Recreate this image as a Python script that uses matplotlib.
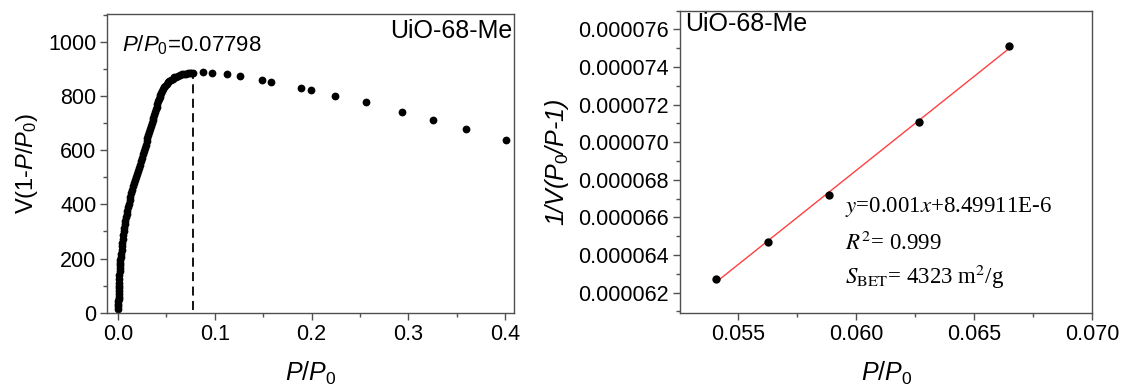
import matplotlib
matplotlib.use("Agg")
import matplotlib.pyplot as plt
import numpy as np
from matplotlib.ticker import MultipleLocator, FormatStrFormatter

plt.rcParams['font.family'] = ['Liberation Sans', 'DejaVu Sans']
plt.rcParams['mathtext.fontset'] = 'custom'
plt.rcParams['mathtext.rm'] = 'Liberation Sans'
plt.rcParams['mathtext.it'] = 'Liberation Sans:italic'
plt.rcParams['mathtext.bf'] = 'Liberation Sans:bold'

# ---------------- data: left panel (Rouquerol plot) ----------------
p_rel = [0.0003, 0.0004, 0.0005, 0.0006, 0.0007, 0.0008, 0.0009, 0.0010, 0.0011, 0.0012,
         0.0013, 0.0015, 0.0017, 0.0019, 0.0021, 0.0023, 0.0025, 0.0027, 0.0030, 0.0034,
         0.0038, 0.0042, 0.0046, 0.0050, 0.0055, 0.0060, 0.0065, 0.0071, 0.0077, 0.0083,
         0.0090, 0.0097, 0.0104, 0.0113, 0.0121, 0.0130, 0.0139, 0.0148, 0.0157, 0.0166,
         0.0175, 0.0184, 0.0194, 0.0204, 0.0214, 0.0224, 0.0234, 0.0245, 0.0256, 0.0266,
         0.0276, 0.0286, 0.0296, 0.0306, 0.0316, 0.0326, 0.0335, 0.0344, 0.0352, 0.0360,
         0.0368, 0.0376, 0.0384, 0.0392, 0.0400, 0.0408, 0.0416, 0.0424, 0.0432, 0.0440,
         0.0449, 0.0458, 0.0468, 0.0478, 0.0490, 0.0503, 0.0517, 0.0532, 0.0548, 0.0565,
         0.0583, 0.0601, 0.0620, 0.0640, 0.0660, 0.0680, 0.0700, 0.0720, 0.0740, 0.0760,
         0.0780,
         0.0874, 0.0977, 0.1126, 0.1263, 0.1488, 0.1584, 0.1890, 0.1990, 0.2238, 0.2565,
         0.2934, 0.3250, 0.3598, 0.4008]
v_term = [15, 24, 33, 42, 51, 60, 70, 80, 90, 100,
          110, 124, 139, 153, 165, 175, 184, 194, 204, 218,
          231, 245, 258, 271, 286, 300, 313, 327, 340, 352,
          365, 377, 389, 403, 415, 428, 441, 454, 466, 478,
          489, 500, 512, 523, 535, 546, 558, 571, 584, 596,
          608, 620, 632, 644, 656, 668, 679, 690, 700, 710,
          720, 730, 740, 750, 760, 770, 780, 789, 797, 805,
          812, 819, 826, 832, 838, 845, 850, 855, 860, 864,
          868, 871, 874, 877, 879, 881, 882, 883, 884, 884,
          885,
          888, 886, 880, 873, 859, 852, 830, 822, 801, 776,
          741, 711, 677, 637]
p_max = 0.07798

# ---------------- data: right panel (BET plot) ----------------
bet_x = [0.05406, 0.05624, 0.05883, 0.06267, 0.06647]
bet_y = [0.0000627, 0.0000647, 0.0000672, 0.0000711, 0.0000751]

left_xticks = [0.0, 0.1, 0.2, 0.3, 0.4]
left_yticks = [0, 200, 400, 600, 800, 1000]
right_xticks = [0.055, 0.060, 0.065, 0.070]
right_yticks = [0.000062, 0.000064, 0.000066, 0.000068, 0.000070, 0.000072, 0.000074, 0.000076]

sample = "UiO-68-Me"

fig = plt.figure(figsize=(11.23, 3.85), dpi=100)
ax1 = fig.add_axes([0.0957, 0.1862, 0.3624, 0.7774])
ax2 = fig.add_axes([0.6055, 0.1862, 0.3672, 0.786])

spine_col = '#505050'
TICK_FS = 15.5

def style(ax):
    for s in ax.spines.values():
        s.set_color(spine_col)
        s.set_linewidth(1.0)
    ax.tick_params(which='major', direction='out', length=5, width=1.0,
                   color=spine_col, labelsize=TICK_FS, labelcolor='black',
                   top=False, right=False, pad=3)
    ax.tick_params(which='minor', direction='out', length=3, width=1.0,
                   color=spine_col, top=False, right=False)

# left panel
ax1.plot(p_rel, v_term, 'o', color='black', markersize=5.6, markeredgewidth=0)
ax1.plot([p_max, p_max], [12, 872], color='black', lw=1.3, dashes=(5, 3))
ax1.set_xlim(-0.0107, 0.4094)
ax1.set_ylim(-2, 1102)
ax1.set_xticks(left_xticks)
ax1.set_yticks(left_yticks)
ax1.xaxis.set_minor_locator(MultipleLocator(0.05))
ax1.yaxis.set_minor_locator(MultipleLocator(100))
ax1.xaxis.set_major_formatter(FormatStrFormatter('%.1f'))
style(ax1)
ax1.set_xlabel(r'$P/P_{\mathit{0}}$', fontsize=18, labelpad=10)
ax1.set_ylabel(r'V(1-$\mathit{P/P_{0}}$)', fontsize=17, labelpad=6)
ax1.text(0.995, 0.985, sample, transform=ax1.transAxes, ha='right', va='top', fontsize=18)
ax1.text(0.035, 0.875, r'$P/P_{\mathit{0}}$=0.07798', transform=ax1.transAxes,
         ha='left', va='baseline', fontsize=16)

# right panel
coef = np.polyfit(bet_x, bet_y, 1)
fx = np.array([bet_x[0], bet_x[-1]])
ax2.plot(fx, np.polyval(coef, fx), color='#ff4040', lw=1.0)
ax2.plot(bet_x, bet_y, 'o', color='black', markersize=6.0, markeredgewidth=0)
ax2.set_xlim(0.05253, 0.0700)
ax2.set_ylim(0.0000609, 0.0000770)
ax2.set_xticks(right_xticks)
ax2.set_yticks(right_yticks)
ax2.xaxis.set_minor_locator(MultipleLocator(0.0025))
ax2.yaxis.set_minor_locator(MultipleLocator(0.000001))
ax2.xaxis.set_major_formatter(FormatStrFormatter('%.3f'))
ax2.yaxis.set_major_formatter(FormatStrFormatter('%.6f'))
style(ax2)
ax2.set_xlabel(r'$P/P_{\mathit{0}}$', fontsize=18, labelpad=10)
ax2.set_ylabel(r'1/V($P_{\mathit{0}}$/P-1)', fontsize=18, labelpad=5, fontstyle='italic')
ax2.text(0.012, 0.995, sample, transform=ax2.transAxes, ha='left', va='top', fontsize=18)

serif = dict(family='Liberation Serif', fontsize=16.5, math_fontfamily='stix')
ax2.text(0.40, 0.352, r'$y$=0.001$x$+8.49911E-6', transform=ax2.transAxes,
         ha='left', va='center', **serif)
ax2.text(0.40, 0.232, r'$R^{2}$= 0.999', transform=ax2.transAxes,
         ha='left', va='center', **serif)
ax2.text(0.40, 0.121, r'$S_{\mathrm{BET}}$= 4323 m$^{2}$/g', transform=ax2.transAxes,
         ha='left', va='center', **serif)

fig.savefig('out.png', dpi=100)
